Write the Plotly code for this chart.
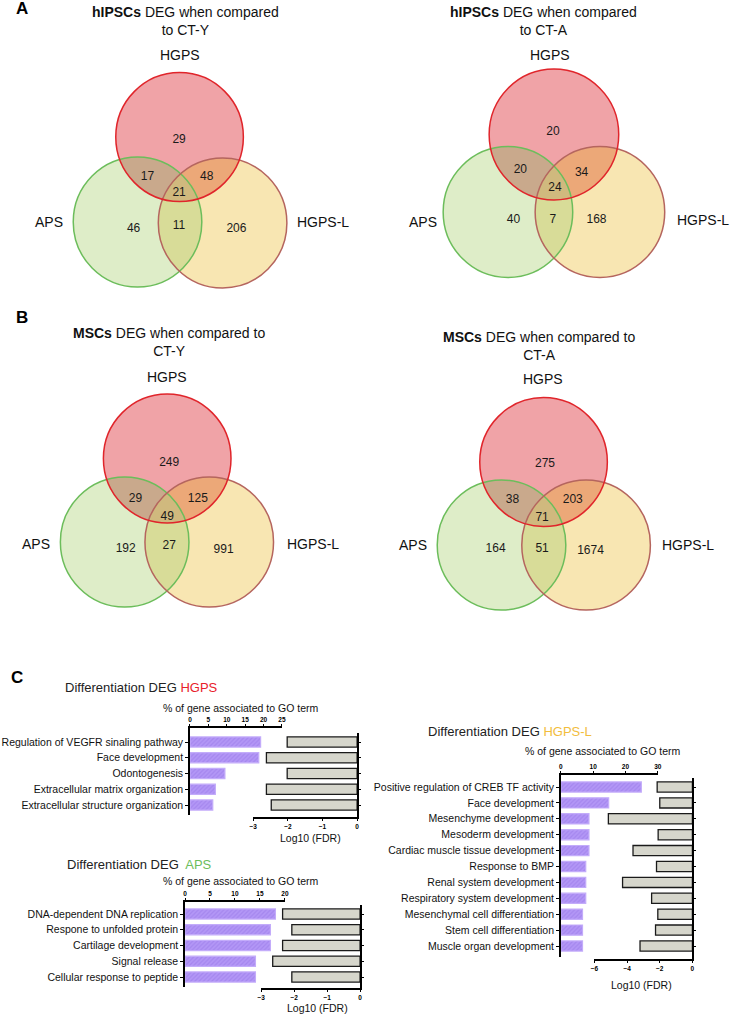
import numpy as np
import plotly.graph_objects as go

W, H = 734, 1017
FONT = "Arial, Liberation Sans, sans-serif"

# ---------------- data ----------------
set_names = ["HGPS", "APS", "HGPS-L"]
# region order: HGPS only, HGPS&APS, HGPS&HGPS-L, all three, APS only, APS&HGPS-L, HGPS-L only
venn_a_cty = [29, 17, 48, 21, 46, 11, 206]
venn_a_cta = [20, 20, 34, 24, 40, 7, 168]
venn_b_cty = [249, 29, 125, 49, 192, 27, 991]
venn_b_cta = [275, 38, 203, 71, 164, 51, 1674]
venn_titles = [
    "<b>hIPSCs</b> DEG when compared<br>to CT-Y",
    "<b>hIPSCs</b> DEG when compared<br>to CT-A",
    "<b>MSCs</b> DEG when compared to<br>CT-Y",
    "<b>MSCs</b> DEG when compared to<br>CT-A",
]

hgps_terms = ["Regulation of VEGFR sinaling pathway", "Face development", "Odontogenesis",
              "Extracellular matrix organization", "Extracellular structure organization"]
hgps_pct = [19.2, 18.7, 9.5, 6.9, 6.2]
hgps_fdr = [-2.02, -2.62, -2.02, -2.62, -2.48]

aps_terms = ["DNA-dependent DNA replication", "Respone to unfolded protein", "Cartilage development",
             "Signal release", "Cellular response to peptide"]
aps_pct = [18.1, 17.1, 17.1, 14.1, 14.1]
aps_fdr = [-2.35, -2.07, -2.35, -2.65, -2.07]

hgpsl_terms = ["Positive regulation of CREB TF activity", "Face development", "Mesenchyme development",
               "Mesoderm development", "Cardiac muscle tissue development", "Response to BMP",
               "Renal system development", "Respiratory system development",
               "Mesenchymal cell differentiation", "Stem cell differentiation", "Muscle organ development"]
hgpsl_pct = [24.9, 14.8, 8.7, 8.7, 8.7, 7.7, 7.7, 7.7, 6.7, 6.7, 6.7]
hgpsl_fdr = [-2.16, -2.0, -5.15, -2.1, -3.64, -2.2, -4.28, -2.5, -2.12, -2.26, -3.21]

# ---------------- layout constants (pixels) ----------------
venn_layout = [
    dict(circ=[(177.5, 137, 64.5), (135, 222, 65), (221, 223, 65)],
         txt=[(177, 140), (145, 177), (205, 177), (177, 193), (131, 229), (177, 226), (235, 229)],
         lab=[(178, 55), (45, 222), (323, 222)], title=(183, 21)),
    dict(circ=[(556, 134.5, 65.5), (509.5, 212, 65.5), (602.5, 212, 65.5)],
         txt=[(555, 132), (522, 170), (584, 173), (557, 188), (515, 220), (555, 220), (599, 220)],
         lab=[(552, 55), (424, 222), (707, 220)], title=(545, 21)),
    dict(circ=[(165, 458.5, 64.5), (122, 542, 65), (207.5, 542, 65)],
         txt=[(167, 463), (133, 499), (196, 499), (165, 517), (123, 549), (167, 546), (222, 550)],
         lab=[(165, 377), (32, 544), (312, 544)], title=(167, 342)),
    dict(circ=[(545.5, 462, 64.5), (503, 545, 65), (588.5, 545, 65)],
         txt=[(547, 464), (514, 500), (575, 500), (544, 518), (497, 549), (544, 549), (593, 551)],
         lab=[(545, 379), (414, 545), (692, 545)], title=(541, 346)),
]
venn_counts = [venn_a_cty, venn_a_cta, venn_b_cty, venn_b_cta]

solo_fill = ["#f0a3a7", "#deedc8", "#f8e6b2"]
edge_col = ["#e0252b", "#6cbd5b", "#b5655e"]
pair_fill = {(0, 1): "#c9a98c", (0, 2): "#eca878", (1, 2): "#d8dc98"}
triple_fill = "#d0b97e"


def circle_pts(cx, cy, r, n=720):
    t = np.linspace(0, 2 * np.pi, n, endpoint=False)
    return cx + r * np.cos(t), cy + r * np.sin(t)


def intersection_path(circles):
    xs, ys = [], []
    for i, (cx, cy, r) in enumerate(circles):
        px, py = circle_pts(cx, cy, r)
        mask = np.ones_like(px, dtype=bool)
        for j, (ox, oy, orr) in enumerate(circles):
            if j != i:
                mask &= (px - ox) ** 2 + (py - oy) ** 2 <= orr ** 2
        xs.append(px[mask])
        ys.append(py[mask])
    x = np.concatenate(xs)
    y = np.concatenate(ys)
    mx, my = x.mean(), y.mean()
    order = np.argsort(np.arctan2(y - my, x - mx))
    x, y = x[order], y[order]
    return "M " + " L ".join(f"{a:.2f},{b:.2f}" for a, b in zip(x, y)) + " Z"


fig = go.Figure()
shapes = []
annotations = []

for vl, counts, title in zip(venn_layout, venn_counts, venn_titles):
    circ = vl["circ"]
    for k, (cx, cy, r) in enumerate(circ):
        shapes.append(dict(type="circle", xref="x", yref="y", x0=cx - r, x1=cx + r, y0=cy - r, y1=cy + r,
                           fillcolor=solo_fill[k], line=dict(width=0), layer="below"))
    for (i, j), col in pair_fill.items():
        shapes.append(dict(type="path", xref="x", yref="y", path=intersection_path([circ[i], circ[j]]),
                           fillcolor=col, line=dict(width=0), layer="below"))
    shapes.append(dict(type="path", xref="x", yref="y", path=intersection_path(circ),
                       fillcolor=triple_fill, line=dict(width=0), layer="below"))
    for k in [1, 2, 0]:
        cx, cy, r = circ[k]
        shapes.append(dict(type="circle", xref="x", yref="y", x0=cx - r, x1=cx + r, y0=cy - r, y1=cy + r,
                           fillcolor="rgba(0,0,0,0)", line=dict(color=edge_col[k], width=1.5), layer="below"))
    fig.add_trace(go.Scatter(x=[p[0] for p in vl["txt"]], y=[p[1] for p in vl["txt"]],
                             text=[str(c) for c in counts], mode="text", xaxis="x", yaxis="y",
                             textfont=dict(family=FONT, size=12, color="#1a1a1a"),
                             hoverinfo="skip", showlegend=False))
    for name, (lx, ly) in zip(set_names, vl["lab"]):
        annotations.append(dict(x=lx, y=ly, xref="x", yref="y", text=name, showarrow=False,
                                font=dict(family=FONT, size=14, color="#111"),
                                xanchor="center", yanchor="middle"))
    tx, ty = vl["title"]
    annotations.append(dict(x=tx, y=ty, xref="x", yref="y", text=title, showarrow=False,
                            font=dict(family=FONT, size=14, color="#111"),
                            xanchor="center", yanchor="middle", align="center"))

for letter, (lx, ly) in zip(["A", "B", "C"], [(18, 8), (18, 317), (13, 677)]):
    annotations.append(dict(x=lx, y=ly, xref="x", yref="y", text=f"<b>{letter}</b>", showarrow=False,
                            font=dict(family=FONT, size=17, color="#000"),
                            xanchor="center", yanchor="middle"))

# ---------------- bar charts ----------------
charts = [
    dict(terms=hgps_terms, pct=hgps_pct, fdr=hgps_fdr,
         px=(188, 281), prange=[0, 25], pdt=5, py=(728, 815), centers=(742, 805),
         gx=(252, 357), grange=[-3, 0], gdt=1, gy=(733, 817),
         head=(60, 687, "Differentiation DEG <span style='color:#e8202a'>HGPS</span>"),
         pctlab=(239, 708), fdrlab=(310, 838)),
    dict(terms=aps_terms, pct=aps_pct, fdr=aps_fdr,
         px=(183, 284), prange=[0, 20], pdt=5, py=(902, 987), centers=(914, 977),
         gx=(260, 360), grange=[-3, 0], gdt=1, gy=(905, 988),
         head=(62, 864, "Differentiation DEG  <span style='color:#6cbd5b'>APS</span>"),
         pctlab=(239, 881), fdrlab=(317, 1008)),
    dict(terms=hgpsl_terms, pct=hgpsl_pct, fdr=hgpsl_fdr,
         px=(563, 661), prange=[0, 30], pdt=10, py=(775, 957), centers=(787, 946),
         gx=(597, 696), grange=[-6, 0], gdt=2, gy=(778, 959),
         head=(427, 731, "Differentiation DEG <span style='color:#f2bd3c'>HGPS-L</span>"),
         pctlab=(605, 751), fdrlab=(645, 985)),
]


def yrange(top, bottom, c0, c1, n):
    s = (c1 - c0) / (n - 1)
    r0 = -(c0 - top) / s
    r1 = (n - 1) + (bottom - c1) / s
    return [r1, r0]


layout_axes = {}
ax = 2
for ch in charts:
    n = len(ch["terms"])
    idx = list(range(n))
    pa, ga = ax, ax + 1
    fig.add_trace(go.Bar(y=idx, x=ch["pct"], orientation="h", xaxis=f"x{pa}", yaxis=f"y{pa}", width=0.64,
                         marker=dict(color="#ae90f4", line=dict(color="#c3acfa", width=1.2),
                                     pattern=dict(shape="/", fgcolor="#9777e6", bgcolor="#b397f6",
                                                  size=3, solidity=0.4)),
                         showlegend=False, hoverinfo="skip"))
    fig.add_trace(go.Bar(y=idx, x=ch["fdr"], orientation="h", xaxis=f"x{ga}", yaxis=f"y{ga}", width=0.64,
                         marker=dict(color="#d6d6cc", line=dict(color="#1a1a1a", width=1.3)),
                         showlegend=False, hoverinfo="skip"))
    common_x = dict(showline=True, linecolor="#000", linewidth=1.5, ticks="outside", ticklen=2,
                    tickwidth=1.2, tickcolor="#000", showgrid=False, zeroline=False, fixedrange=True,
                    tickfont=dict(family=FONT, size=6.5, color="#000", weight="bold"))
    layout_axes[f"xaxis{pa}"] = dict(common_x, domain=[ch["px"][0] / W, ch["px"][1] / W], range=ch["prange"],
                                     dtick=ch["pdt"], tick0=0, side="top", anchor=f"y{pa}")
    layout_axes[f"yaxis{pa}"] = dict(domain=[1 - ch["py"][1] / H, 1 - ch["py"][0] / H],
                                     range=yrange(ch["py"][0], ch["py"][1], ch["centers"][0], ch["centers"][1], n),
                                     tickvals=idx, ticktext=ch["terms"], showline=True, linecolor="#000",
                                     linewidth=1.5, ticks="outside", ticklen=3, tickwidth=1.2, tickcolor="#000",
                                     showgrid=False, zeroline=False, fixedrange=True, anchor=f"x{pa}",
                                     tickfont=dict(family=FONT, size=10.5, color="#111"))
    layout_axes[f"xaxis{ga}"] = dict(common_x, domain=[ch["gx"][0] / W, ch["gx"][1] / W], range=ch["grange"],
                                     dtick=ch["gdt"], tick0=0, side="bottom", anchor=f"y{ga}")
    layout_axes[f"yaxis{ga}"] = dict(domain=[1 - ch["gy"][1] / H, 1 - ch["gy"][0] / H],
                                     range=yrange(ch["gy"][0], ch["gy"][1], ch["centers"][0], ch["centers"][1], n),
                                     tickvals=idx, showticklabels=False, showline=True, linecolor="#000",
                                     linewidth=1.5, ticks="outside", ticklen=2, tickwidth=1, tickcolor="#000",
                                     showgrid=False, zeroline=False, fixedrange=True, side="right",
                                     anchor=f"x{ga}")
    hx, hy, htxt = ch["head"]
    annotations.append(dict(x=hx, y=hy, xref="x", yref="y", text=htxt, showarrow=False,
                            font=dict(family=FONT, size=13, color="#222"), xanchor="left", yanchor="middle"))
    annotations.append(dict(x=ch["pctlab"][0], y=ch["pctlab"][1], xref="x", yref="y",
                            text="% of gene associated to GO term", showarrow=False,
                            font=dict(family=FONT, size=10.5, color="#111"), xanchor="center", yanchor="middle"))
    annotations.append(dict(x=ch["fdrlab"][0], y=ch["fdrlab"][1], xref="x", yref="y",
                            text="Log10 (FDR)", showarrow=False,
                            font=dict(family=FONT, size=10.5, color="#111"), xanchor="center", yanchor="middle"))
    ax += 2

fig.update_layout(
    width=W, height=H, margin=dict(l=0, r=0, t=0, b=0),
    paper_bgcolor="white", plot_bgcolor="rgba(0,0,0,0)",
    showlegend=False, bargap=0.35,
    xaxis=dict(domain=[0, 1], range=[0, W], visible=False, fixedrange=True),
    yaxis=dict(domain=[0, 1], range=[H, 0], visible=False, fixedrange=True),
    shapes=shapes, annotations=annotations,
    font=dict(family=FONT),
    **layout_axes,
)

fig.write_html("out.html", config={"displayModeBar": False},
               post_script="document.body.style.margin='0';document.body.style.overflow='hidden';")
